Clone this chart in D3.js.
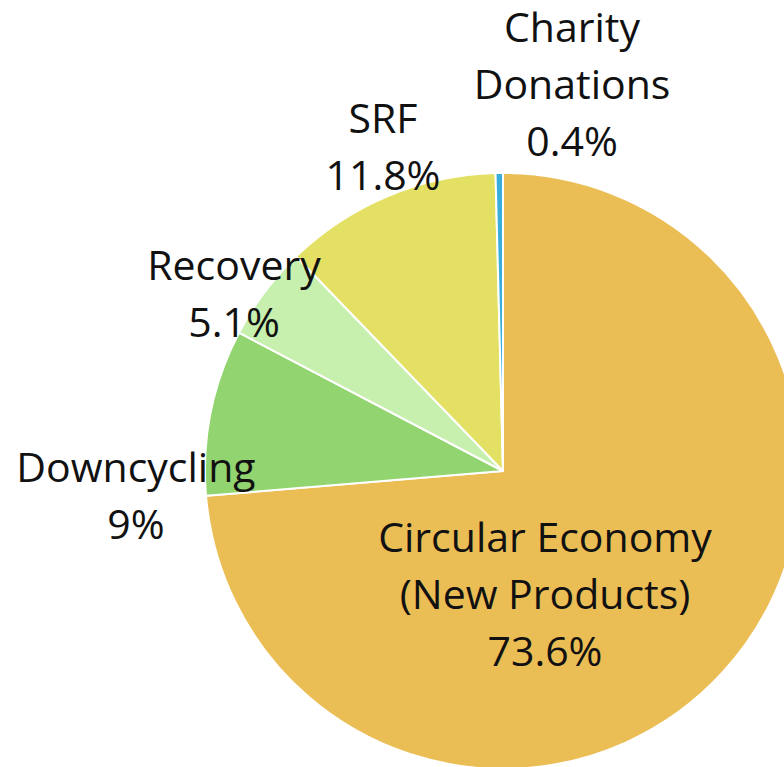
<!DOCTYPE html>
<html>
<head>
<meta charset="utf-8">
<script src="https://cdn.jsdelivr.net/npm/d3@7"></script>
<style>
  body { margin: 0; background: #fff; }
  svg { display: block; }
  text { font-family: "Open Sans", Lato, sans-serif; fill: #111; }
</style>
</head>
<body>
<svg id="chart"></svg>
<script>
const width = 784, height = 767;

// data, in drawing order (clockwise from 12 o'clock)
const categories = ["Circular Economy (New Products)", "Downcycling", "Recovery", "SRF", "Charity Donations"];
const shares = [73.6, 9, 5.1, 11.8, 0.4];
const labelLines = [
  ["Circular Economy", "(New Products)", "73.6%"],
  ["Downcycling", "9%"],
  ["Recovery", "5.1%"],
  ["SRF", "11.8%"],
  ["Charity", "Donations", "0.4%"]
];
const colors = ["#ebbd55", "#92d46f", "#c7efad", "#e3e063", "#3aaedb"];

// label anchors (centre x, first baseline y), placed like the original
const labelAnchor = [[545, 552], [136, 482], [234, 280], [383, 133], [572, 42]];
const lineGap = 57;

const cx = 503, cy = 471, radius = 298;

const svg = d3.select("#chart")
  .attr("width", width)
  .attr("height", height);

const g = svg.append("g")
  .attr("transform", `translate(${cx},${cy})`);

const pie = d3.pie().sort(null).value(d => d);
const arc = d3.arc().innerRadius(0).outerRadius(radius);

g.selectAll("path.slice")
  .data(pie(shares))
  .enter().append("path")
  .attr("class", "slice")
  .attr("d", arc)
  .attr("fill", (d, i) => colors[i])
  .attr("stroke", "#fff")
  .attr("stroke-width", 2)
  .attr("stroke-linejoin", "round");

// labels
const labels = svg.selectAll("text.label")
  .data(labelLines)
  .enter().append("text")
  .attr("class", "label")
  .attr("text-anchor", "middle")
  .attr("font-size", "41px")
  .attr("x", (d, i) => labelAnchor[i][0])
  .attr("y", (d, i) => labelAnchor[i][1]);

labels.each(function(lines, i) {
  d3.select(this).selectAll("tspan")
    .data(lines)
    .enter().append("tspan")
    .attr("x", labelAnchor[i][0])
    .attr("y", (l, j) => labelAnchor[i][1] + j * lineGap)
    .text(l => l);
});
</script>
</body>
</html>
